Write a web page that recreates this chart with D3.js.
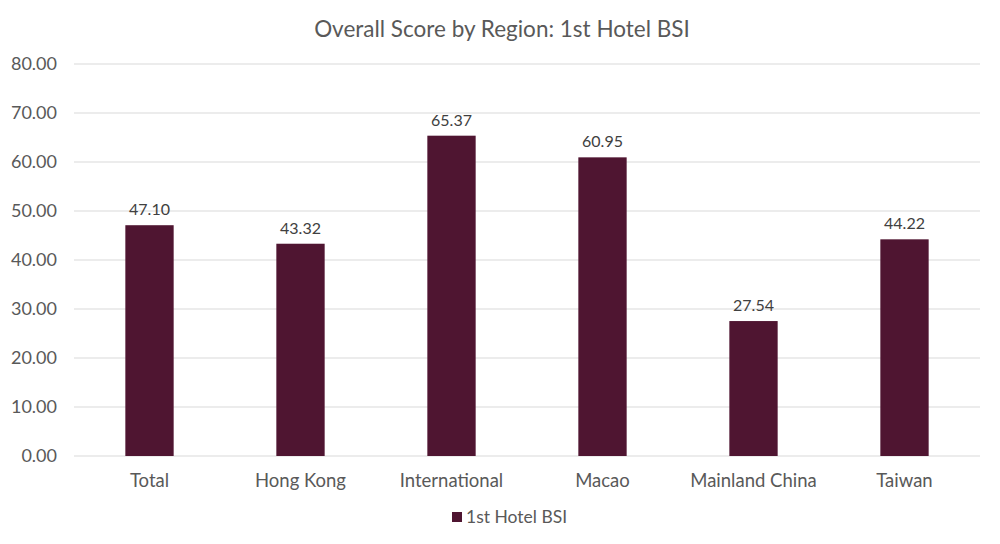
<!DOCTYPE html>
<html>
<head>
<meta charset="utf-8">
<script src="https://cdn.jsdelivr.net/npm/d3@7"></script>
<style>
  body { margin: 0; background: #fff; }
  text { font-family: "Lato", "Open Sans", sans-serif; }
</style>
</head>
<body>
<svg id="chart" width="1000" height="544"></svg>
<script>
// data
const regions = ["Total", "Hong Kong", "International", "Macao", "Mainland China", "Taiwan"];
const scores = [47.10, 43.32, 65.37, 60.95, 27.54, 44.22];
const yTicks = [0, 10, 20, 30, 40, 50, 60, 70, 80];
const seriesName = "1st Hotel BSI";

const width = 1000, height = 544;
const margin = { top: 64, right: 20, bottom: 88, left: 74 };
const barColor = "#4f1531";

const svg = d3.select("#chart");

const x = d3.scaleBand()
    .domain(regions)
    .range([margin.left, width - margin.right])
    .paddingInner(0.68)
    .paddingOuter(0.34);

const y = d3.scaleLinear()
    .domain([0, 80])
    .range([height - margin.bottom, margin.top]);

// gridlines
svg.append("g")
    .selectAll("line")
    .data(yTicks)
    .join("line")
    .attr("x1", margin.left)
    .attr("x2", width - margin.right)
    .attr("y1", d => y(d))
    .attr("y2", d => y(d))
    .attr("stroke", "#d9d9d9")
    .attr("stroke-width", 1);

// y tick labels
svg.append("g")
    .selectAll("text")
    .data(yTicks)
    .join("text")
    .attr("x", 57)
    .attr("y", d => y(d))
    .attr("dy", "0.35em")
    .attr("text-anchor", "end")
    .style("font-size", "18px")
    .attr("fill", "#595959")
    .text(d => d.toFixed(2));

// bars
svg.append("g")
    .selectAll("rect")
    .data(regions)
    .join("rect")
    .attr("x", d => x(d))
    .attr("width", x.bandwidth())
    .attr("y", (d, i) => y(scores[i]))
    .attr("height", (d, i) => y(0) - y(scores[i]))
    .attr("fill", barColor);

// value labels
svg.append("g")
    .selectAll("text")
    .data(regions)
    .join("text")
    .attr("x", d => x(d) + x.bandwidth() / 2)
    .attr("y", (d, i) => y(scores[i]) - 10)
    .attr("text-anchor", "middle")
    .style("font-size", "16px")
    .attr("fill", "#404040")
    .text((d, i) => scores[i].toFixed(2));

// category labels
svg.append("g")
    .selectAll("text")
    .data(regions)
    .join("text")
    .attr("x", d => x(d) + x.bandwidth() / 2)
    .attr("y", height - margin.bottom + 31)
    .attr("text-anchor", "middle")
    .style("font-size", "18.5px")
    .attr("fill", "#595959")
    .text(d => d);

// title
svg.append("text")
    .attr("x", 502)
    .attr("y", 37)
    .attr("text-anchor", "middle")
    .style("font-size", "22.5px")
    .attr("fill", "#595959")
    .text("Overall Score by Region: 1st Hotel BSI");

// legend
const legend = svg.append("g").attr("transform", "translate(452, 512)");
legend.append("rect")
    .attr("width", 10)
    .attr("height", 10)
    .attr("fill", barColor);
legend.append("text")
    .attr("x", 14)
    .attr("y", 11)
    .style("font-size", "17.5px")
    .attr("fill", "#595959")
    .text(seriesName);
</script>
</body>
</html>
